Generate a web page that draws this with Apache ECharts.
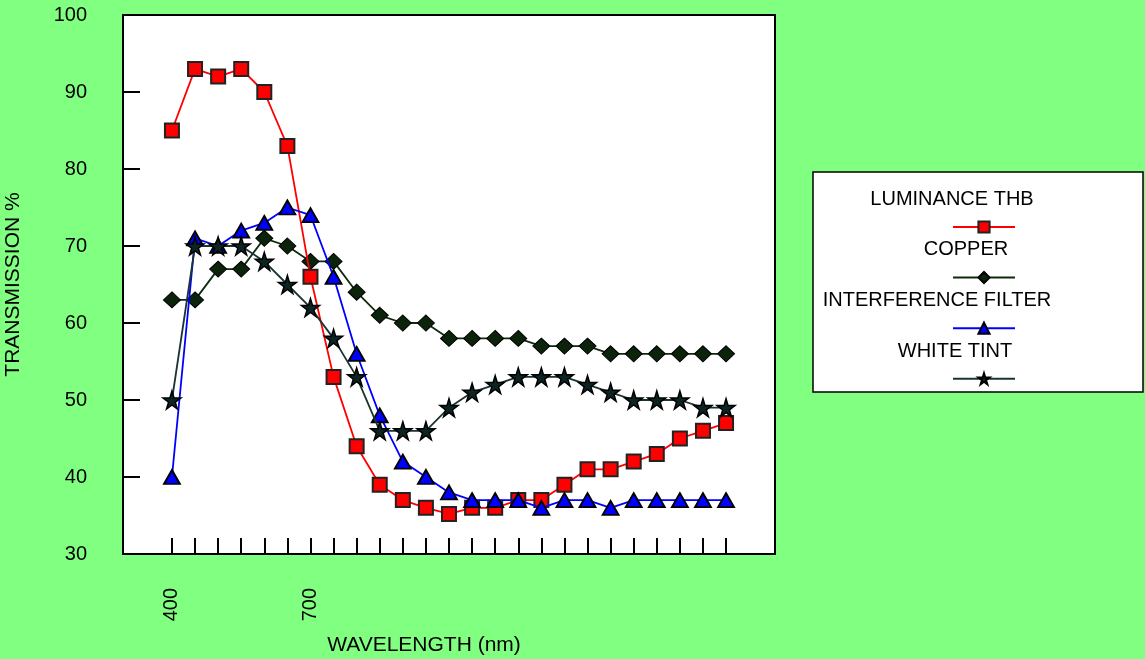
<!DOCTYPE html>
<html>
<head>
<meta charset="utf-8">
<script src="https://cdn.jsdelivr.net/npm/echarts@6/dist/echarts.min.js"></script>
<style>
html,body{margin:0;padding:0;background:#80ff80;}
#chart{width:1145px;height:659px;}
</style>
</head>
<body>
<div id="chart"></div>
<script>
const wavelengths = [400,450,500,550,600,650,700,750,800,850,900,950,1000,1050,1100,1150,1200,1250,1300,1350,1400,1450,1500,1550,1600];
const xLabelValues = [400, 700];
const yTicks = [30,40,50,60,70,80,90,100];
const seriesNames = ['LUMINANCE THB','COPPER','INTERFERENCE FILTER','WHITE TINT'];
const luminance = [85,93,92,93,90,83,66,53,44,39,37,36,35.2,36,36,37,37,39,41,41,42,43,45,46,47];
const copper = [63,63,67,67,71,70,68,68,64,61,60,60,58,58,58,58,57,57,57,56,56,56,56,56,56];
const interference = [40,71,70,72,73,75,74,66,56,48,42,40,38,37,37,37,36,37,37,36,37,37,37,37,37];
const whiteTint = [50,70,70,70,68,65,62,58,53,46,46,46,49,51,52,53,53,53,52,51,50,50,50,49,49];

const FONT = "'Liberation Sans', Arial, sans-serif";
const FS = 20;
const NAME_FS = 21;
const STAR = 'path://M50,0 L61,35 L98,35 L68,57 L79,91 L50,70 L21,91 L32,57 L2,35 L39,35 Z';

function pairs(vals){ return wavelengths.map((w,i)=>[w, vals[i]]); }

const chart = echarts.init(document.getElementById('chart'), null, {renderer:'canvas'});
const option = {
  backgroundColor: '#80ff80',
  animation: false,
  grid: {left:123, right:370, top:15, bottom:105, containLabel:false, outerBoundsMode:'none',
         show:true, backgroundColor:'#ffffff', borderColor:'#000', borderWidth:2},
  xAxis: {
    type:'value', min:294, max:1706,
    name:'WAVELENGTH (nm)', nameLocation:'middle', nameGap:81,
    nameTextStyle:{fontFamily:FONT, fontSize:NAME_FS, color:'#000', padding:[0,50,0,0]},
    axisLine:{show:true, lineStyle:{color:'#000', width:2}},
    axisTick:{show:true, inside:true, length:16, customValues:wavelengths, lineStyle:{color:'#000', width:2}},
    axisLabel:{customValues:xLabelValues, rotate:90, margin:34, fontFamily:FONT, fontSize:FS, color:'#000'},
    splitLine:{show:false}
  },
  yAxis: {
    type:'value', min:30, max:100, interval:10,
    name:'TRANSMISSION %', nameLocation:'middle', nameGap:99, nameRotate:90,
    nameTextStyle:{fontFamily:FONT, fontSize:NAME_FS, color:'#000'},
    axisLine:{show:true, lineStyle:{color:'#000', width:2}},
    axisTick:{show:true, inside:true, length:17, lineStyle:{color:'#000', width:2}},
    axisLabel:{margin:36, fontFamily:FONT, fontSize:FS, color:'#000'},
    splitLine:{show:false}
  },
  legend: {
    orient:'vertical', left:947, top:215, itemWidth:62, itemHeight:14, itemGap:37, z:10,
    formatter:()=>'', textStyle:{fontSize:10},
    selectedMode:false,
    data: seriesNames
  },
  graphic: [
    {type:'rect', z:1, shape:{x:813, y:172, width:330, height:220}, style:{fill:'#fff', stroke:'#000', lineWidth:1.5}},
    {type:'text', z:2, x:952, y:199, style:{text:seriesNames[0], font:FS+'px '+FONT, fill:'#000', align:'center', verticalAlign:'middle'}},
    {type:'text', z:2, x:966, y:249, style:{text:seriesNames[1], font:FS+'px '+FONT, fill:'#000', align:'center', verticalAlign:'middle'}},
    {type:'text', z:2, x:937, y:300, style:{text:seriesNames[2], font:FS+'px '+FONT, fill:'#000', align:'center', verticalAlign:'middle'}},
    {type:'text', z:2, x:955, y:351, style:{text:seriesNames[3], font:FS+'px '+FONT, fill:'#000', align:'center', verticalAlign:'middle'}}
  ],
  series: [
    {name:seriesNames[0], type:'line', data:pairs(luminance), symbol:'rect', symbolSize:14,
     lineStyle:{color:'#ff0000', width:1.8}, itemStyle:{color:'#ff0000', borderColor:'#222', borderWidth:2}, z:4},
    {name:seriesNames[1], type:'line', data:pairs(copper), symbol:'diamond', symbolSize:[17,16],
     lineStyle:{color:'#0f2a0f', width:1.8}, itemStyle:{color:'#0a230a', borderColor:'#000', borderWidth:1}, z:3},
    {name:seriesNames[2], type:'line', data:pairs(interference), symbol:'triangle', symbolSize:[16,14],
     lineStyle:{color:'#0000ff', width:1.8}, itemStyle:{color:'#0000ff', borderColor:'#000', borderWidth:1.8}, z:5},
    {name:seriesNames[3], type:'line', data:pairs(whiteTint), symbol:STAR, symbolSize:18,
     lineStyle:{color:'#1a3333', width:1.8}, itemStyle:{color:'#0d2424', borderColor:'#000', borderWidth:1.5}, z:6}
  ]
};
chart.setOption(option);
</script>
</body>
</html>
